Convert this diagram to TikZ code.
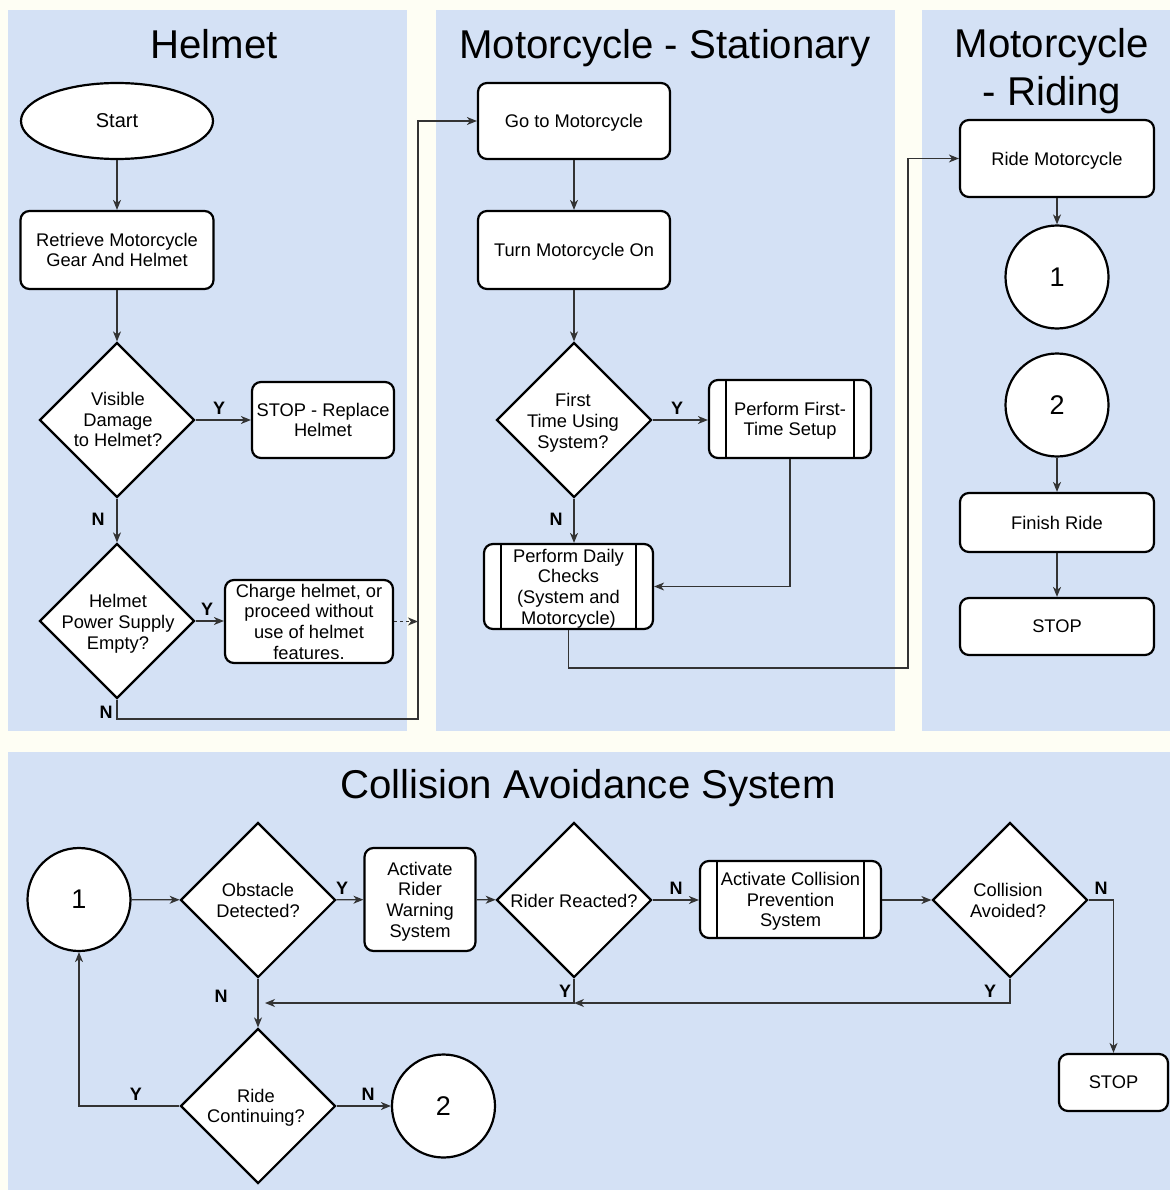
\documentclass[tikz,border=0pt]{standalone}
\usepackage{fontspec}
\setmainfont{Liberation Sans}
\usetikzlibrary{shapes.geometric,arrows.meta}
\definecolor{bgc}{HTML}{FEFEF4}
\definecolor{panelc}{HTML}{D4E1F5}
\definecolor{linec}{HTML}{333333}
\newcommand\nfs{\fontsize{18.3}{20.7}\selectfont}
\newcommand\tfs{\fontsize{40.2}{48}\selectfont}
\tikzset{
  box/.style={draw=black, line width=2.2pt, rounded corners=9pt, fill=white, align=center, inner sep=0pt, font=\nfs, text depth=0pt},
  subbox/.style={box, path picture={\draw[line width=2.2pt] ([xshift=17pt]path picture bounding box.north west) -- ([xshift=17pt]path picture bounding box.south west) ([xshift=-17pt]path picture bounding box.north east) -- ([xshift=-17pt]path picture bounding box.south east);}},
  dia/.style={diamond, draw=black, line width=2.2pt, fill=white, minimum width=155pt, minimum height=155pt, inner sep=0pt},
  dtxt/.style={align=center, font=\nfs, inner sep=0pt, text depth=0pt},
  circ/.style={circle, draw=black, line width=2.2pt, fill=white, minimum size=103pt, inner sep=0pt, font=\fontsize{27}{30}\selectfont},
  startel/.style={ellipse, draw=black, line width=2.2pt, fill=white, minimum width=192pt, minimum height=76pt, inner sep=0pt, font=\fontsize{20}{22}\selectfont},
  arr/.style={-{Stealth[length=10pt, width=8pt, inset=3pt]}, line width=1.3pt, draw=linec},
  con/.style={line width=1.3pt, draw=linec},
  yn/.style={font=\bfseries\fontsize{18}{20}\selectfont, inner sep=0pt},
  ttl/.style={font=\tfs, align=center, inner sep=0pt, text depth=0pt}
}
\begin{document}
\begin{tikzpicture}[x=1pt,y=-1pt]
\fill[bgc] (0,0) rectangle (1170,1190);
\useasboundingbox (0,0) rectangle (1170,1190);
% panels
\fill[panelc] (8,10) rectangle (407,731);
\fill[panelc] (436,10) rectangle (895,731);
\fill[panelc] (922,10) rectangle (1170,731);
\fill[panelc] (8,752) rectangle (1170,1190);
% titles
\node[ttl] (t1) at (214,44) {Helmet};
\node[ttl] (t2) at (665,44) {Motorcycle - Stationary};
\node[ttl] (t3) at (1052,67) {Motorcycle\\- Riding};
\node[ttl] (t4) at (588,784) {Collision Avoidance System};

% ---------- Helmet ----------
\node[startel] (start) at (117,121) {Start};
\node[box, minimum width=193pt, minimum height=78pt] (retr) at (117,250) {Retrieve Motorcycle\\Gear And Helmet};
\node[dia] (d1) at (117,420) {};
\node[dtxt] (d1t) at (118,419.5) {Visible\\Damage\\to Helmet?};
\node[box, minimum width=142pt, minimum height=76pt] (stop1) at (323,420) {STOP - Replace\\Helmet};
\node[dia] (d2) at (117,621) {};
\node[dtxt] (d2t) at (118,622) {Helmet\\Power Supply\\Empty?};
\node[box, minimum width=168pt, minimum height=83pt] (charge) at (309,621.5) {Charge helmet, or\\proceed without\\use of helmet\\features.};
\coordinate (cdash) at (418,621.5);
\coordinate (cJ) at (418,719);

\draw[arr] (start) -- (retr);
\draw[arr] (retr) -- (d1);
\draw[arr] (d1) -- (stop1);
\draw[arr] (d1) -- (d2);
\draw[arr] (d2.east) -- (charge.west |- d2.east);
\draw[arr, dash pattern=on 3pt off 3pt] (charge.east) -- (cdash);
\node[yn] (y1) at (219,408) {Y};
\node[yn] (n1) at (98,519) {N};
\node[yn] (y2) at (207,609) {Y};
\node[yn] (n2) at (106,712) {N};

% ---------- Stationary ----------
\node[box, minimum width=192pt, minimum height=76pt] (go) at (574,121) {Go to Motorcycle};
\node[box, minimum width=192pt, minimum height=78pt] (turn) at (574,250) {Turn Motorcycle On};
\node[dia] (d3) at (574,420) {};
\node[dtxt] (d3t) at (573,421) {First\\Time Using\\System?};
\node[subbox, minimum width=162pt, minimum height=78pt] (setup) at (790,419) {Perform First-\\Time Setup};
\node[subbox, minimum width=169pt, minimum height=85pt] (daily) at (568.5,586.5) {Perform Daily\\Checks\\(System and\\Motorcycle)};
\coordinate (cK) at (908,668);

\draw[arr] (d2.south) |- (cJ) |- (go.west);
\draw[arr] (go) -- (turn);
\draw[arr] (turn) -- (d3);
\draw[arr] (d3.east) -- (setup.west |- d3.east);
\draw[arr] (d3.south) -- (d3.south |- daily.north);
\draw[arr] (setup.south) |- (daily.east);
\node[yn] (y3) at (677,408) {Y};
\node[yn] (n3) at (556,519) {N};

% ---------- Riding ----------
\node[box, minimum width=194pt, minimum height=77pt] (ride) at (1057,158.5) {Ride Motorcycle};
\node[circ] (r1) at (1057,277) {1};
\node[circ] (r2) at (1057,405) {2};
\node[box, minimum width=194pt, minimum height=59pt] (finish) at (1057,522.5) {Finish Ride};
\node[box, minimum width=194pt, minimum height=57pt] (stop2) at (1057,626.5) {STOP};

\draw[arr] (daily.south) |- (cK) |- (ride.west);
\draw[arr] (ride) -- (r1);
\draw[arr] (r2) -- (finish);
\draw[arr] (finish) -- (stop2);

% ---------- Collision ----------
\node[circ] (c1) at (79,899.5) {1};
\node[dia] (dob) at (258,900) {};
\node[dtxt] (dobt) at (258,900.5) {Obstacle\\Detected?};
\node[box, minimum width=111pt, minimum height=103pt] (warn) at (420,899.5) {Activate\\Rider\\Warning\\System};
\node[dia] (drr) at (574,900) {};
\node[dtxt] (drrt) at (574,900.5) {Rider Reacted?};
\node[subbox, minimum width=181pt, minimum height=77pt] (cps) at (790.5,899.5) {Activate Collision\\Prevention\\System};
\node[dia] (dca) at (1010,900) {};
\node[dtxt] (dcat) at (1008,900.5) {Collision\\Avoided?};
\node[box, minimum width=109pt, minimum height=57pt] (stop3) at (1113.5,1082.5) {STOP};
\node[dia] (drc) at (258,1106) {};
\node[dtxt] (drct) at (256,1106) {Ride\\Continuing?};
\node[circ] (c2) at (443.5,1106) {2};
\coordinate (cM) at (574,1003);
\coordinate (cN) at (265,1003);

\draw[arr] (c1) -- (dob);
\draw[arr] (dob) -- (warn);
\draw[arr] (warn) -- (drr);
\draw[arr] (drr.east) -- (cps.west |- drr.east);
\draw[arr] (cps.east |- dca.west) -- (dca.west);
\draw[arr] (dca.east) -| (stop3.north);
\draw[arr] (dca.south) |- (cM);
\draw[arr] (drr.south) |- (cN);
\draw[arr] (dob) -- (drc);
\draw[arr] (drc) -- (c2);
\draw[arr] (drc.west) -| (c1.south);
\node[yn] (y4) at (342,888) {Y};
\node[yn] (n4) at (676,888) {N};
\node[yn] (n5) at (1101,888) {N};
\node[yn] (y5) at (565,991) {Y};
\node[yn] (y6) at (990,991) {Y};
\node[yn] (n6) at (221,996) {N};
\node[yn] (n7) at (368,1094) {N};
\node[yn] (y7) at (136,1094) {Y};
\end{tikzpicture}
\end{document}
